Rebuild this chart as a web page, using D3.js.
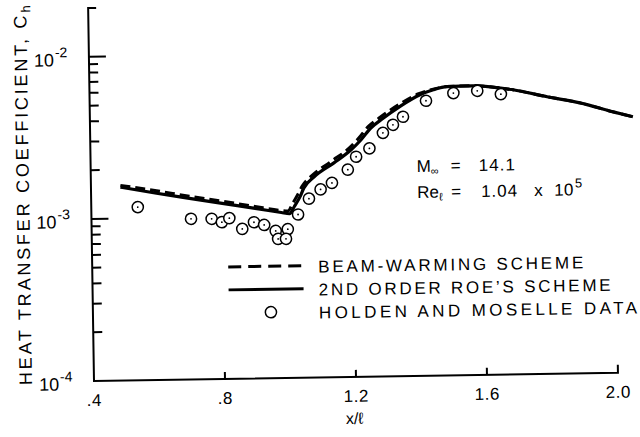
<!DOCTYPE html>
<html>
<head>
<meta charset="utf-8">
<script src="https://cdn.jsdelivr.net/npm/d3@7"></script>
<style>
  html, body { margin: 0; padding: 0; background: #fff; }
  svg { display: block; }
  text { font-family: "Liberation Sans", Arial, Helvetica, sans-serif; fill: #000; }
</style>
</head>
<body>
<svg id="chart" width="640" height="437"></svg>
<script>
// x/l positions and heat transfer coefficient Ch for each series
const roeX  = [0.49, 0.60, 0.70, 0.80, 0.90, 0.98, 1.005, 1.02, 1.038, 1.05, 1.082, 1.143, 1.196, 1.227, 1.258, 1.289, 1.35, 1.409, 1.45, 1.492, 1.571, 1.63, 1.693, 1.797, 1.897, 1.998, 2.058];
const roeCh = [1.56e-3, 1.42e-3, 1.31e-3, 1.21e-3, 1.12e-3, 1.05e-3, 1.03e-3, 1.14e-3, 1.31e-3, 1.48e-3, 1.73e-3, 2.10e-3, 2.52e-3, 2.90e-3, 3.43e-3, 3.83e-3, 4.65e-3, 5.42e-3, 5.80e-3, 6.04e-3, 6.08e-3, 5.95e-3, 5.70e-3, 5.12e-3, 4.66e-3, 4.07e-3, 3.78e-3];

const beamX  = [0.49, 0.60, 0.70, 0.80, 0.90, 0.98, 1.0, 1.015, 1.032, 1.045, 1.075, 1.135, 1.19, 1.22, 1.25, 1.282, 1.345, 1.405, 1.45, 1.492, 1.571, 1.63, 1.693, 1.797, 1.897, 1.998, 2.058];
const beamCh = [1.60e-3, 1.47e-3, 1.35e-3, 1.25e-3, 1.15e-3, 1.08e-3, 1.07e-3, 1.19e-3, 1.36e-3, 1.52e-3, 1.76e-3, 2.15e-3, 2.58e-3, 2.97e-3, 3.50e-3, 3.92e-3, 4.75e-3, 5.50e-3, 5.85e-3, 6.06e-3, 6.10e-3, 5.96e-3, 5.70e-3, 5.12e-3, 4.66e-3, 4.07e-3, 3.78e-3];

const holdenX  = [0.542, 0.704, 0.767, 0.798, 0.821, 0.860, 0.896, 0.927, 0.962, 0.999, 0.969, 0.993, 1.031, 1.065, 1.101, 1.136, 1.185, 1.211, 1.252, 1.294, 1.325, 1.356, 1.427, 1.511, 1.584, 1.656];
const holdenCh = [1.17e-3, 0.98e-3, 0.975e-3, 0.927e-3, 0.98e-3, 0.839e-3, 0.92e-3, 0.883e-3, 0.809e-3, 0.827e-3, 0.722e-3, 0.722e-3, 1.017e-3, 1.27e-3, 1.445e-3, 1.58e-3, 1.90e-3, 2.28e-3, 2.56e-3, 3.18e-3, 3.56e-3, 3.98e-3, 4.97e-3, 5.51e-3, 5.66e-3, 5.37e-3];

const xTicks = [0.4, 0.8, 1.2, 1.6, 2.0];
const xTickLabels = [".4", ".8", "1.2", "1.6", "2.0"];
const yMajor = [1e-4, 1e-3, 1e-2];
const yMajorExp = ["-4", "-3", "-2"];

const legendLabels = ["BEAM-WARMING SCHEME", "2ND ORDER ROE\u2019S SCHEME", "HOLDEN AND MOSELLE DATA"];

const svg = d3.select("#chart");
svg.append("rect").attr("width", 640).attr("height", 437).attr("fill", "#fff");

// plot frame: origin at the lower-left corner, whole sheet sits slightly tilted
const ox = 94, oy = 381;
const g = svg.append("g").attr("transform", `rotate(-0.9,${ox},${oy})`);

const x = d3.scaleLinear().domain([0.4, 2.0]).range([ox, 618]);
const y = d3.scaleLog().domain([1e-4, 2e-2]).range([oy, 8]);

const axisStyle = s => s.attr("stroke", "#000").attr("stroke-width", 2).attr("fill", "none");

// axes
g.append("path").call(axisStyle)
  .attr("d", `M${ox + 8},${y(2e-2)} H${ox} V${oy} H${x(2.0)} V${oy - 8}`);

// x ticks (pointing up into the plot)
g.selectAll(".xtick").data(xTicks.slice(1, -1)).enter().append("line")
  .call(axisStyle)
  .attr("x1", d => x(d)).attr("x2", d => x(d))
  .attr("y1", oy).attr("y2", oy - 7);

g.selectAll(".xlab").data(xTicks).enter().append("text")
  .attr("x", d => x(d)).attr("y", oy + 25)
  .attr("text-anchor", "middle").attr("font-size", 17).attr("letter-spacing", 0.5)
  .text((d, i) => xTickLabels[i]);

// y ticks: decades long, minor short
const yMinor = [];
[1e-4, 1e-3].forEach(dec => { for (let k = 2; k <= 9; k++) yMinor.push(k * dec); });
g.selectAll(".ymin").data(yMinor).enter().append("line").call(axisStyle)
  .attr("x1", ox).attr("x2", ox + 9)
  .attr("y1", d => y(d)).attr("y2", d => y(d));
g.selectAll(".ymaj").data(yMajor.slice(1)).enter().append("line").call(axisStyle)
  .attr("x1", ox).attr("x2", ox + 17)
  .attr("y1", d => y(d)).attr("y2", d => y(d));

const ylab = g.selectAll(".ylab").data(yMajor).enter().append("text")
  .attr("x", 39).attr("y", d => y(d) + 9).attr("font-size", 18);
ylab.append("tspan").text("10");
ylab.append("tspan").attr("font-size", 14).attr("dy", -9).attr("dx", 1)
  .text((d, i) => yMajorExp[i]);

// axis titles
const yt = g.append("text")
  .attr("transform", "translate(32,384) rotate(-90)")
  .attr("font-size", 18).attr("letter-spacing", 2.8);
yt.append("tspan").text("HEAT TRANSFER COEFFICIENT, C");
yt.append("tspan").attr("font-size", 13).attr("dy", 4).text("h");

g.append("text").attr("x", x(1.2) - 2).attr("y", oy + 47)
  .attr("text-anchor", "middle").attr("font-size", 16).text("x/\u2113");

// curves
const line = d3.line().x(d => x(d[0])).y(d => y(d[1])).curve(d3.curveMonotoneX);
g.append("path").datum(roeX.map((v, i) => [v, roeCh[i]]))
  .attr("d", line).attr("fill", "none").attr("stroke", "#000").attr("stroke-width", 3.2);
g.append("path").datum(beamX.map((v, i) => [v, beamCh[i]]))
  .attr("d", line).attr("fill", "none").attr("stroke", "#000").attr("stroke-width", 3)
  .attr("stroke-dasharray", "10,5");

// experimental data
const pts = g.selectAll(".pt").data(holdenX.map((v, i) => [v, holdenCh[i]])).enter().append("g")
  .attr("transform", d => `translate(${x(d[0])},${y(d[1])})`);
pts.append("circle").attr("r", 5.6).attr("fill", "#fff").attr("stroke", "#000").attr("stroke-width", 1.5);
pts.append("circle").attr("r", 0.9).attr("fill", "#000");

// flow conditions
const m = g.append("text").attr("y", 177).attr("font-size", 17);
m.append("tspan").attr("x", 420).text("M");
m.append("tspan").attr("x", 434).attr("dy", 3).attr("font-size", 11).text("\u221e");
m.append("tspan").attr("x", 454).attr("dy", -3).text("=");
m.append("tspan").attr("x", 482).attr("letter-spacing", 1).text("14.1");

const re = g.append("text").attr("y", 203).attr("font-size", 17);
re.append("tspan").attr("x", 420).text("Re");
re.append("tspan").attr("x", 442).attr("dy", 3).attr("font-size", 11).text("\u2113");
re.append("tspan").attr("x", 454).attr("dy", -3).text("=");
re.append("tspan").attr("x", 484).attr("letter-spacing", 1).text("1.04");
re.append("tspan").attr("x", 537).text("x");
re.append("tspan").attr("x", 557).attr("letter-spacing", 0.5).text("10");
re.append("tspan").attr("x", 578).attr("dy", -8).attr("font-size", 13).text("5");

// legend
const legY = [269, 292, 315];
const legTextW = [265, 292, 318];
g.append("line").attr("x1", 230).attr("x2", 305).attr("y1", legY[0]).attr("y2", legY[0])
  .attr("stroke", "#000").attr("stroke-width", 3).attr("stroke-dasharray", "13,7");
g.append("line").attr("x1", 230).attr("x2", 305).attr("y1", legY[1]).attr("y2", legY[1])
  .attr("stroke", "#000").attr("stroke-width", 3);
g.append("circle").attr("cx", 272).attr("cy", legY[2]).attr("r", 5.6)
  .attr("fill", "#fff").attr("stroke", "#000").attr("stroke-width", 1.5);
g.selectAll(".leg").data(legendLabels).enter().append("text")
  .attr("x", 320).attr("y", (d, i) => legY[i] + 7)
  .attr("font-size", 17)
  .attr("textLength", (d, i) => legTextW[i]).attr("lengthAdjust", "spacing")
  .text(d => d);
</script>
</body>
</html>
